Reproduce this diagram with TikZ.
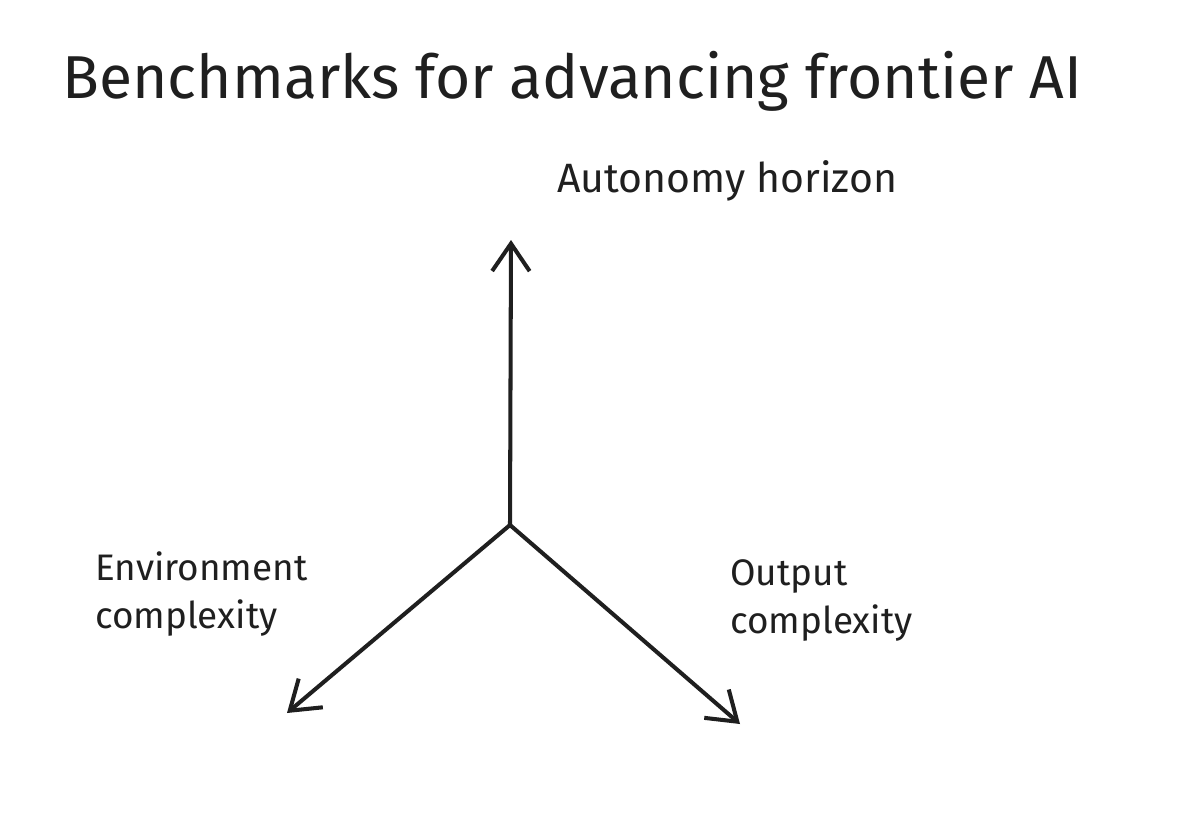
\documentclass[tikz,border=0pt]{standalone}
\usepackage{fontspec}
\setmainfont{Fira Sans}
\usetikzlibrary{arrows.meta}
\begin{document}
\begin{tikzpicture}[x=0.02cm,y=-0.02cm,
  ax/.style={line width=2.3pt,color=black!88,line cap=round,-{Straight Barb[length=0.55cm,width=0.75cm,line width=2.3pt]}},
  lab/.style={anchor=base west,inner sep=0pt,font=\fontsize{21}{26}\selectfont,color=black!88}]
\useasboundingbox (0,0) rectangle (1200,825);
\node[anchor=base west,inner sep=0pt,color=black!88] (title) at (62,98) {\resizebox{20.4cm}{!}{\fontsize{36}{40}\selectfont Benchmarks for advancing frontier AI}};
\coordinate (o) at (510,525);
\coordinate (up) at (511,240);
\coordinate (l) at (287,713);
\coordinate (r) at (740,724);
\draw[ax] (o) -- (up);
\draw[ax] (o) -- (l);
\draw[ax] (o) -- (r);
\node[lab] (auto) at (557,192) {\resizebox{6.8cm}{!}{Autonomy horizon}};
\node[lab] (env1) at (95,580) {Environment};
\node[lab] (env2) at (95,628) {complexity};
\node[lab] (out1) at (730,585) {Output};
\node[lab] (out2) at (730,633) {complexity};
\end{tikzpicture}
\end{document}
